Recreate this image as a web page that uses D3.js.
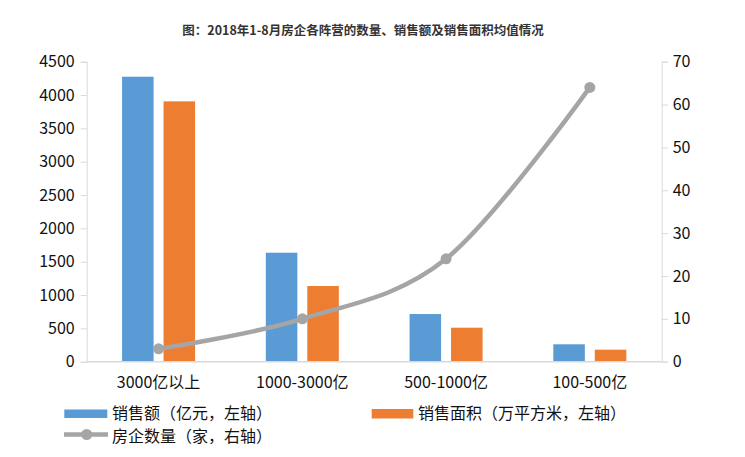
<!DOCTYPE html>
<html><head><meta charset="utf-8">
<script src="https://cdn.jsdelivr.net/npm/d3@7"></script>
<style>body{margin:0;background:#fff}svg{display:block}text{font-family:"Noto Sans CJK SC","Noto Sans",sans-serif}</style>
</head><body>
<svg id="c" width="745" height="457"></svg>
<script>
const categories = ["3000亿以上", "1000-3000亿", "500-1000亿", "100-500亿"];
const salesAmount = [4275, 1635, 715, 261];
const salesArea = [3905, 1135, 510, 180];
const companyCount = [3, 10, 24, 64];
const leftTicks = [0, 500, 1000, 1500, 2000, 2500, 3000, 3500, 4000, 4500];
const rightTicks = [0, 10, 20, 30, 40, 50, 60, 70];
const title = "图：2018年1-8月房企各阵营的数量、销售额及销售面积均值情况";
const legendLabels = ["销售额（亿元，左轴）", "销售面积（万平方米，左轴）", "房企数量（家，右轴）"];

const svg = d3.select("#c");
const L = 86.7, R = 661.7, T = 61.7, B = 361.7;
const x = d3.scaleBand().domain(categories).range([L, R]);
const yL = d3.scaleLinear().domain([0, 4500]).range([B, T]);
const yR = d3.scaleLinear().domain([0, 70]).range([B, T]);
const sub = d3.scaleBand().domain([0, 1]).range([0, 73]).paddingInner(0.24);
const colors = ["#5b9bd5", "#ed7d31", "#a5a5a5"];
const axisColor = "#d9d9d9";
const fs = 16;

svg.append("text").attr("x", 363).attr("y", 35).attr("text-anchor", "middle")
  .attr("font-size", 12.5).attr("font-weight", "bold").attr("fill", "#333").text(title);

// left axis
const gl = svg.append("g").attr("transform", `translate(${L},0)`)
  .call(d3.axisLeft(yL).tickValues(leftTicks).tickFormat(d3.format("d")).tickSize(6).tickPadding(6));
gl.select(".domain").attr("stroke", axisColor);
gl.selectAll(".tick line").attr("stroke", axisColor);
gl.selectAll("text").attr("font-size", fs).attr("fill", "#111");

const gr = svg.append("g").attr("transform", `translate(${R},0)`)
  .call(d3.axisRight(yR).tickValues(rightTicks).tickFormat(d3.format("d")).tickSize(6).tickPadding(5));
gr.select(".domain").attr("stroke", axisColor);
gr.selectAll(".tick line").attr("stroke", axisColor);
gr.selectAll("text").attr("font-size", fs).attr("fill", "#111");

// bars
const series = [salesAmount, salesArea];
series.forEach((vals, si) => {
  svg.append("g").selectAll("rect").data(vals).join("rect")
    .attr("x", (d, i) => x(categories[i]) + x.bandwidth() / 2 - 36.5 + sub(si))
    .attr("width", sub.bandwidth())
    .attr("y", d => yL(d))
    .attr("height", d => B - yL(d))
    .attr("fill", colors[si]);
});

// x axis baseline
svg.append("line").attr("x1", L).attr("x2", R).attr("y1", B).attr("y2", B)
  .attr("stroke", axisColor).attr("stroke-width", 1.5);

// x labels
svg.append("g").selectAll("text").data(categories).join("text")
  .attr("x", d => x(d) + x.bandwidth() / 2).attr("y", 388)
  .attr("text-anchor", "middle").attr("font-size", fs).attr("fill", "#111").text(d => d);

// line
const line = d3.line().x((d, i) => x(categories[i]) + x.bandwidth() / 2).y(d => yR(d))
  .curve(d3.curveCardinal.tension(0));
svg.append("path").datum(companyCount).attr("d", line)
  .attr("fill", "none").attr("stroke", colors[2]).attr("stroke-width", 4.5);
svg.append("g").selectAll("circle").data(companyCount).join("circle")
  .attr("cx", (d, i) => x(categories[i]) + x.bandwidth() / 2).attr("cy", d => yR(d))
  .attr("r", 5.5).attr("fill", colors[2]);

// legend
const lg = svg.append("g");
lg.append("rect").attr("x", 64.3).attr("y", 409.5).attr("width", 43).attr("height", 8.5).attr("fill", colors[0]);
lg.append("text").attr("x", 112).attr("y", 418.5).attr("font-size", fs).attr("fill", "#111").text(legendLabels[0]);
lg.append("rect").attr("x", 371.7).attr("y", 409).attr("width", 41.6).attr("height", 9.5).attr("fill", colors[1]);
lg.append("text").attr("x", 418).attr("y", 418.5).attr("font-size", fs).attr("fill", "#111").text(legendLabels[1]);
lg.append("line").attr("x1", 64).attr("x2", 108).attr("y1", 434.5).attr("y2", 434.5)
  .attr("stroke", colors[2]).attr("stroke-width", 4.5);
lg.append("circle").attr("cx", 86.7).attr("cy", 434.5).attr("r", 5.5).attr("fill", colors[2]);
lg.append("text").attr("x", 112).attr("y", 441.5).attr("font-size", fs).attr("fill", "#111").text(legendLabels[2]);
</script>
</body></html>
